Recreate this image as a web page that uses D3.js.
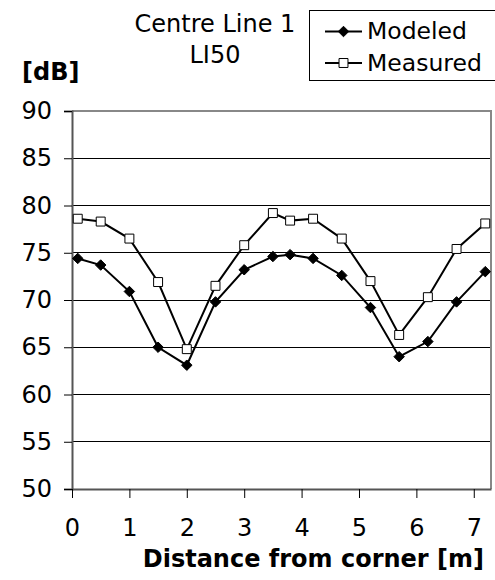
<!DOCTYPE html>
<html>
<head>
<meta charset="utf-8">
<script src="https://cdn.jsdelivr.net/npm/d3@7"></script>
<style>
  html, body { margin: 0; padding: 0; background: #fff; }
  svg { display: block; font-family: "DejaVu Sans", Verdana, sans-serif; }
</style>
</head>
<body>
<svg id="chart" width="495" height="580"></svg>
<script>
// Sound level along centre line 1 (LI50)
const distance = [0.1, 0.5, 1.0, 1.5, 2.0, 2.5, 3.0, 3.5, 3.8, 4.2, 4.7, 5.2, 5.7, 6.2, 6.7, 7.2];
const modeled  = [74.4, 73.7, 70.9, 65.0, 63.1, 69.8, 73.2, 74.6, 74.8, 74.4, 72.6, 69.2, 64.0, 65.6, 69.8, 73.0];
const measured = [78.6, 78.3, 76.5, 71.9, 64.8, 71.5, 75.8, 79.2, 78.4, 78.6, 76.5, 72.0, 66.3, 70.3, 75.4, 78.1];
const xTicks = [0, 1, 2, 3, 4, 5, 6, 7];
const yTicks = [50, 55, 60, 65, 70, 75, 80, 85, 90];
const seriesNames = ["Modeled", "Measured"];

const FONT = "DejaVu Sans, Verdana, sans-serif";
const FS = 24;

const svg = d3.select("#chart");
const plot = { left: 72, right: 491, top: 111, bottom: 489 };

const x = d3.scaleLinear().domain([0, 7.3]).range([plot.left, plot.right]);
const y = d3.scaleLinear().domain([50, 90]).range([plot.bottom, plot.top]);

// horizontal gridlines
svg.append("g")
  .selectAll("line")
  .data(yTicks.filter(v => v > 50 && v < 90))
  .join("line")
  .attr("x1", plot.left).attr("x2", plot.right)
  .attr("y1", d => y(d)).attr("y2", d => y(d))
  .attr("stroke", "#000").attr("stroke-width", 1)
  .attr("shape-rendering", "crispEdges");

// plot frame (top and right)
svg.append("path")
  .attr("d", `M${plot.left},${y(90)}H${plot.right}V${plot.bottom}`)
  .attr("fill", "none").attr("stroke", "#888").attr("stroke-width", 2)
  .attr("shape-rendering", "crispEdges");

// y axis
const yAxis = svg.append("g")
  .attr("transform", `translate(${plot.left},0)`)
  .call(d3.axisLeft(y).tickValues(yTicks).tickSize(8).tickPadding(12).tickFormat(d3.format("d")));
yAxis.select(".domain").attr("stroke", "#555").attr("stroke-width", 2);
yAxis.selectAll(".tick line").attr("stroke", "#000");
yAxis.selectAll("text").attr("font-size", FS).attr("fill", "#000").attr("font-family", FONT);

// x axis
const xAxis = svg.append("g")
  .attr("transform", `translate(0,${plot.bottom})`)
  .call(d3.axisBottom(x).tickValues(xTicks).tickSize(9).tickSizeOuter(0).tickPadding(21).tickFormat(d3.format("d")));
xAxis.select(".domain").attr("stroke", "#555").attr("stroke-width", 2);
xAxis.selectAll(".tick line").attr("stroke", "#000");
xAxis.selectAll("text").attr("font-size", FS).attr("fill", "#000").attr("font-family", FONT);

// series lines
const pts = vals => distance.map((d, i) => [d, vals[i]]);
const line = d3.line().x(d => x(d[0])).y(d => y(d[1]));

[modeled, measured].forEach(vals => {
  svg.append("path")
    .datum(pts(vals))
    .attr("d", line)
    .attr("fill", "none").attr("stroke", "#000").attr("stroke-width", 2);
});

const diamond = d3.symbol().type(d3.symbolDiamond2).size(70);
const square = d3.symbol().type(d3.symbolSquare).size(80);

svg.append("g").selectAll("path")
  .data(pts(modeled))
  .join("path")
  .attr("transform", d => `translate(${x(d[0])},${y(d[1])})`)
  .attr("d", diamond)
  .attr("fill", "#000").attr("stroke", "#000").attr("stroke-width", 1);

svg.append("g").selectAll("path")
  .data(pts(measured))
  .join("path")
  .attr("transform", d => `translate(${x(d[0])},${y(d[1])})`)
  .attr("d", square)
  .attr("fill", "#fff").attr("stroke", "#000").attr("stroke-width", 1);

// title
const title = svg.append("text")
  .attr("text-anchor", "middle")
  .attr("font-size", FS).attr("fill", "#000");
title.append("tspan").attr("x", 215).attr("y", 32).text("Centre Line 1");
title.append("tspan").attr("x", 215).attr("y", 63).text("LI50");

// axis titles
svg.append("text")
  .attr("x", 22).attr("y", 80)
  .attr("font-size", FS).attr("font-weight", "bold").attr("fill", "#000")
  .text("[dB]");

svg.append("text")
  .attr("x", 484).attr("y", 567).attr("text-anchor", "end")
  .attr("font-size", FS).attr("font-weight", "bold").attr("fill", "#000")
  .text("Distance from corner [m]");

// legend
const legend = svg.append("g");
legend.append("rect")
  .attr("x", 309.5).attr("y", 10.5).attr("width", 200).attr("height", 70)
  .attr("fill", "#fff").attr("stroke", "#000").attr("stroke-width", 1);

const legendRows = [
  { name: seriesNames[0], sym: diamond, fill: "#000", y: 31.5 },
  { name: seriesNames[1], sym: square, fill: "#fff", y: 63 }
];
legendRows.forEach(r => {
  legend.append("line")
    .attr("x1", 325).attr("x2", 362).attr("y1", r.y).attr("y2", r.y)
    .attr("stroke", "#000").attr("stroke-width", 2);
  legend.append("path")
    .attr("transform", `translate(343.5,${r.y})`)
    .attr("d", r.sym)
    .attr("fill", r.fill).attr("stroke", "#000").attr("stroke-width", 1);
  legend.append("text")
    .attr("x", 367).attr("y", r.y + 7.5)
    .attr("font-size", 23.5).attr("fill", "#000")
    .text(r.name);
});
</script>
</body>
</html>
